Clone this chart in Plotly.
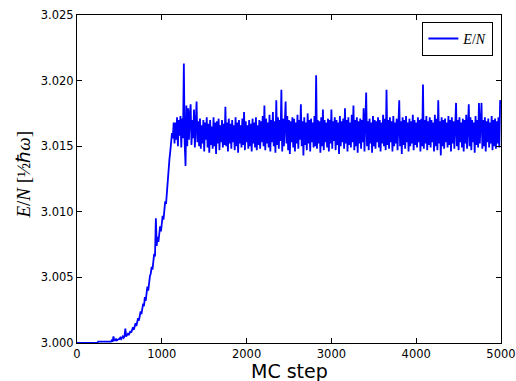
import plotly.graph_objects as go

mc_step = list(range(0, 5001, 10))

energy_warmup = [
    3.0000, 3.0000, 3.0000, 3.0000, 3.0000, 3.0000, 3.0000, 3.0000, 3.0000, 3.0000,
    3.0000, 3.0000, 3.0000, 3.0000, 3.0000, 3.0000, 3.0000, 3.0000, 3.0000, 3.0000,
    3.0000, 3.0000, 3.0000, 3.0000, 3.0000, 3.0001, 3.0001, 3.0001, 3.0001, 3.0001,
    3.0001, 3.0001, 3.0001, 3.0001, 3.0001, 3.0001, 3.0001, 3.0001, 3.0001, 3.0001,
]

energy_rise = [
    3.0001, 3.0002, 3.0001, 3.0005, 3.0002, 3.0002, 3.0003, 3.0002, 3.0003, 3.0003,
    3.0003, 3.0004, 3.0003, 3.0004, 3.0005, 3.0004, 3.0005, 3.0011, 3.0005, 3.0006,
    3.0007, 3.0006, 3.0008, 3.0009, 3.0008, 3.0010, 3.0012, 3.0010, 3.0013, 3.0015,
    3.0013, 3.0017, 3.0019, 3.0017, 3.0022, 3.0024, 3.0022, 3.0028, 3.0030, 3.0028,
    3.0035, 3.0032, 3.0038, 3.0043, 3.0040, 3.0047, 3.0051, 3.0053, 3.0058, 3.0056,
    3.0063, 3.0068, 3.0066, 3.0095, 3.0074, 3.0081, 3.0077, 3.0086, 3.0089, 3.0085,
    3.0092, 3.0097, 3.0094, 3.0102, 3.0108, 3.0106, 3.0116, 3.0121, 3.0130, 3.0140,
    3.0146, 3.0155, 3.0160, 3.0156, 3.0168,
]

energy_plateau = [
    3.0152, 3.0168, 3.0155, 3.0172, 3.0150, 3.0170, 3.0158, 3.0173, 3.0149, 3.0171,
    3.0156, 3.0213, 3.0152, 3.0135, 3.0181, 3.0150, 3.0179, 3.0155, 3.0174, 3.0182,
    3.0151, 3.0170, 3.0156, 3.0178, 3.0149, 3.0172, 3.0184, 3.0153, 3.0169, 3.0150,
    3.0171, 3.0148, 3.0166, 3.0152, 3.0170, 3.0146, 3.0168, 3.0155, 3.0172, 3.0149,
    3.0167, 3.0145, 3.0170, 3.0151, 3.0165, 3.0148, 3.0172, 3.0150, 3.0168, 3.0144,
    3.0169, 3.0152, 3.0171, 3.0147, 3.0166, 3.0153, 3.0170, 3.0149, 3.0167, 3.0151,
    3.0180, 3.0150, 3.0168, 3.0146, 3.0171, 3.0152, 3.0167, 3.0148, 3.0170, 3.0153,
    3.0166, 3.0147, 3.0172, 3.0150, 3.0168, 3.0145, 3.0170, 3.0152, 3.0166, 3.0149,
    3.0171, 3.0151, 3.0176, 3.0147, 3.0169, 3.0153, 3.0166, 3.0148, 3.0170, 3.0150,
    3.0167, 3.0146, 3.0171, 3.0152, 3.0168, 3.0149, 3.0172, 3.0147, 3.0166, 3.0151,
    3.0170, 3.0148, 3.0169, 3.0153, 3.0173, 3.0150, 3.0181, 3.0147, 3.0171, 3.0152,
    3.0168, 3.0149, 3.0174, 3.0146, 3.0170, 3.0153, 3.0176, 3.0150, 3.0169, 3.0145,
    3.0185, 3.0151, 3.0172, 3.0148, 3.0170, 3.0154, 3.0193, 3.0146, 3.0171, 3.0150,
    3.0168, 3.0184, 3.0152, 3.0173, 3.0147, 3.0170, 3.0144, 3.0169, 3.0153, 3.0172,
    3.0149, 3.0171, 3.0146, 3.0168, 3.0152, 3.0174, 3.0148, 3.0170, 3.0155, 3.0182,
    3.0150, 3.0169, 3.0143, 3.0172, 3.0151, 3.0168, 3.0147, 3.0175, 3.0152, 3.0170,
    3.0146, 3.0171, 3.0153, 3.0168, 3.0149, 3.0173, 3.0150, 3.0204, 3.0148, 3.0170,
    3.0152, 3.0169, 3.0145, 3.0172, 3.0150, 3.0178, 3.0147, 3.0170, 3.0153, 3.0168,
    3.0149, 3.0171, 3.0146, 3.0170, 3.0152, 3.0178, 3.0148, 3.0169, 3.0154, 3.0172,
    3.0147, 3.0170, 3.0151, 3.0168, 3.0144, 3.0173, 3.0150, 3.0169, 3.0153, 3.0171,
    3.0148, 3.0179, 3.0152, 3.0170, 3.0146, 3.0172, 3.0151, 3.0168, 3.0149, 3.0174,
    3.0153, 3.0181, 3.0147, 3.0170, 3.0150, 3.0172, 3.0145, 3.0169, 3.0152, 3.0171,
    3.0148, 3.0170, 3.0153, 3.0179, 3.0146, 3.0172, 3.0191, 3.0150, 3.0169, 3.0147,
    3.0171, 3.0152, 3.0168, 3.0145, 3.0173, 3.0150, 3.0170, 3.0148, 3.0169, 3.0153,
    3.0172, 3.0149, 3.0170, 3.0146, 3.0168, 3.0152, 3.0174, 3.0150, 3.0171, 3.0147,
    3.0193, 3.0151, 3.0170, 3.0148, 3.0172, 3.0153, 3.0169, 3.0146, 3.0173, 3.0150,
    3.0168, 3.0152, 3.0171, 3.0147, 3.0170, 3.0185, 3.0150, 3.0169, 3.0144, 3.0172,
    3.0151, 3.0170, 3.0148, 3.0173, 3.0153, 3.0168, 3.0146, 3.0171, 3.0150, 3.0169,
    3.0152, 3.0174, 3.0147, 3.0170, 3.0151, 3.0168, 3.0149, 3.0172, 3.0153, 3.0170,
    3.0146, 3.0171, 3.0150, 3.0197, 3.0148, 3.0170, 3.0152, 3.0173, 3.0147, 3.0169,
    3.0151, 3.0172, 3.0149, 3.0170, 3.0153, 3.0168, 3.0146, 3.0174, 3.0150, 3.0171,
    3.0147, 3.0185, 3.0152, 3.0169, 3.0143, 3.0172, 3.0150, 3.0170, 3.0148, 3.0171,
    3.0153, 3.0168, 3.0149, 3.0173, 3.0151, 3.0170, 3.0146, 3.0172, 3.0152, 3.0169,
    3.0148, 3.0171, 3.0183, 3.0150, 3.0170, 3.0147, 3.0172, 3.0153, 3.0168, 3.0149,
    3.0171, 3.0146, 3.0170, 3.0152, 3.0174, 3.0148, 3.0169, 3.0182, 3.0150, 3.0172,
    3.0147, 3.0170, 3.0153, 3.0168, 3.0145, 3.0173, 3.0151, 3.0170, 3.0149, 3.0183,
    3.0152, 3.0171, 3.0183, 3.0148, 3.0170, 3.0150, 3.0172, 3.0146, 3.0169, 3.0153,
    3.0171, 3.0149, 3.0168, 3.0152, 3.0173, 3.0147, 3.0170, 3.0150, 3.0171, 3.0148,
    3.0169, 3.0152, 3.0172, 3.0149, 3.0185, 3.0182,
]

energy = energy_warmup + energy_rise + energy_plateau

x_ticks = [0, 1000, 2000, 3000, 4000, 5000]
y_ticks = [3.000, 3.005, 3.010, 3.015, 3.020, 3.025]

fig = go.Figure()
fig.add_trace(go.Scatter(
    x=mc_step[:len(energy)], y=energy, mode="lines",
    line=dict(color="#0000ff", width=1.8),
    name="<i>E</i>/<i>N</i>",
))

axis_common = dict(
    showline=True, linecolor="black", linewidth=1, mirror="ticks",
    ticks="inside", ticklen=5, tickwidth=1, tickcolor="black",
    showgrid=False, zeroline=False, automargin=False,
    tickfont=dict(family="DejaVu Sans", size=11.5, color="black"),
)

fig.update_layout(
    width=516, height=381,
    margin=dict(l=77, r=15, t=15, b=38, autoexpand=False),
    paper_bgcolor="white", plot_bgcolor="white",
    showlegend=True,
    legend=dict(
        x=0.982, y=0.979, xanchor="right", yanchor="top",
        bordercolor="black", borderwidth=1, bgcolor="white",
        font=dict(family="Liberation Serif", size=14, color="black"),
        itemwidth=30, tracegroupgap=0,
    ),
    xaxis=dict(range=[0, 5000], tickvals=x_ticks,
               ticktext=[str(v) for v in x_ticks], **axis_common),
    yaxis=dict(range=[3.000, 3.025], tickvals=y_ticks,
               ticktext=["%.3f" % v for v in y_ticks], **axis_common),
    annotations=[
        dict(text="MC step", xref="paper", yref="paper", x=0.5, y=-0.045,
             xanchor="center", yanchor="top", showarrow=False,
             font=dict(family="DejaVu Sans", size=19, color="black")),
        dict(text="<i>E</i>/<i>N</i> [½ℏ<i>ω</i>]", xref="paper", yref="paper",
             x=-0.127, y=0.514, xanchor="center", yanchor="middle",
             textangle=-90, showarrow=False,
             font=dict(family="Liberation Serif", size=19, color="black")),
    ],
)

fig.write_html(
    "out.html",
    config={"displayModeBar": False, "responsive": False},
    post_script="document.body.style.margin='0';document.body.style.overflow='hidden';",
)
